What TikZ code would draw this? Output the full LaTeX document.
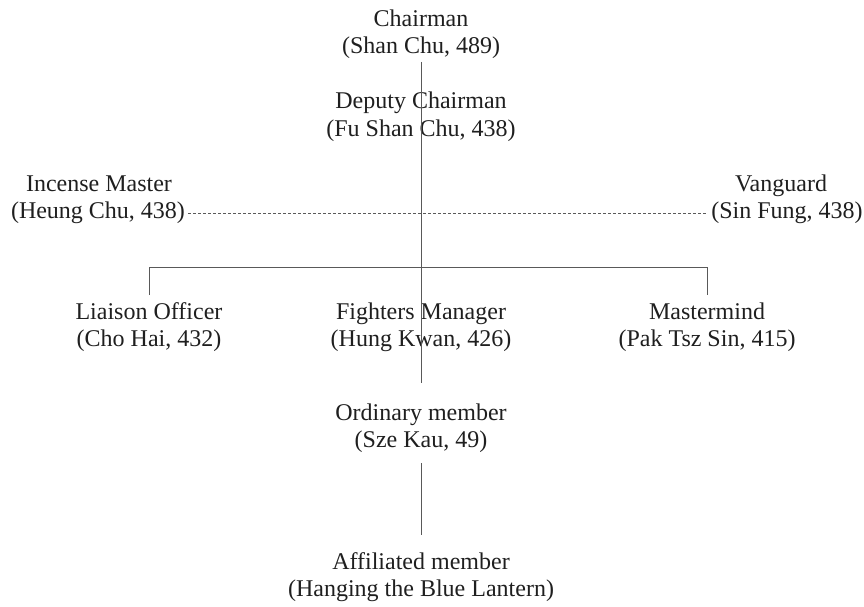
\documentclass[tikz,border=0pt]{standalone}
\usepackage{fontspec}
\setmainfont{Liberation Serif}
\begin{document}
\begin{tikzpicture}[x=1pt,y=-1pt,
  ln/.style={anchor=base,font=\fontsize{24}{27}\selectfont,inner sep=3pt,text=black!88},
  link/.style={draw=black!65,line width=0.9pt},
  dotlink/.style={draw=black!65,line width=0.7pt,dash pattern=on 3pt off 2pt}]
\useasboundingbox (0,0) rectangle (864,607);
% Chairman
\node[ln] (chairA) at (421,27) {Chairman};
\node[ln] (chairB) at (421,54) {(Shan Chu, 489)};
% Deputy
\node[ln] (depA) at (421,109) {Deputy Chairman};
\node[ln] (depB) at (421,136) {(Fu Shan Chu, 438)};
% Incense master / Vanguard
\node[ln] (incA) at (99,191) {Incense Master};
\node[ln] (incB) at (98,218) {(Heung Chu, 438)};
\node[ln] (vanA) at (781,191) {Vanguard};
\node[ln] (vanB) at (787,218) {(Sin Fung, 438)};
% Third row
\node[ln] (liaA) at (149,319) {Liaison Officer};
\node[ln] (liaB) at (149,346) {(Cho Hai, 432)};
\node[ln] (figA) at (421,319) {Fighters Manager};
\node[ln] (figB) at (421,346) {(Hung Kwan, 426)};
\node[ln] (masA) at (707,319) {Mastermind};
\node[ln] (masB) at (707,346) {(Pak Tsz Sin, 415)};
% Ordinary / Affiliated
\node[ln] (ordA) at (421,420) {Ordinary member};
\node[ln] (ordB) at (421,447) {(Sze Kau, 49)};
\node[ln] (affA) at (421,569) {Affiliated member};
\node[ln] (affB) at (421,596) {(Hanging the Blue Lantern)};
% connector ends
\coordinate (ctop) at (421,62);
\coordinate (otop) at (421,383);
\coordinate (bl) at (149,267);
\coordinate (br) at (707,267);
\coordinate (bld) at (149,295);
\coordinate (brd) at (707,295);
\coordinate (obot) at (421,463);
\coordinate (atop) at (421,535);
\draw[link] (ctop) -- (otop);
\draw[link] (bld) -- (bl) -- (br) -- (brd);
\draw[link] (obot) -- (atop);
\draw[dotlink] ([yshift=5pt]incB.base east) -- ([yshift=5pt]vanB.base west);
\end{tikzpicture}
\end{document}
